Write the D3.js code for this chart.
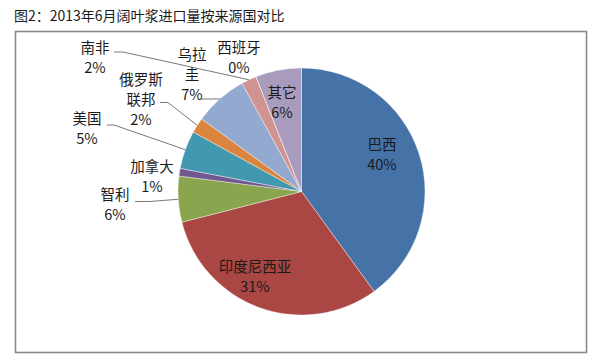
<!DOCTYPE html>
<html><head><meta charset="utf-8">
<script src="https://cdn.jsdelivr.net/npm/d3@7/dist/d3.min.js"></script>
<style>body{margin:0;background:#fff}svg{display:block}text{font-family:"Noto Sans CJK SC","Noto Sans",sans-serif;fill:#1a1a1a}</style>
</head><body>
<script>
const title = "图2：2013年6月阔叶浆进口量按来源国对比";
const countries = ["巴西","印度尼西亚","智利","加拿大","美国","俄罗斯联邦","乌拉圭","南非","西班牙","其它"];
const shares = [40,31,6,1,5,2,7,2,0,6];
const colors = ["#4572A7","#AA4643","#89A54E","#71588F","#4198AF","#DB843D","#93A9CF","#D19392","#B9CD96","#A99BBD"];
// label text lines (name split as in the original)
const nameLines = [["巴西"],["印度尼西亚"],["智利"],["加拿大"],["美国"],["俄罗斯","联邦"],["乌拉","圭"],["南非"],["西班牙"],["其它"]];

const W=597,H=361;
const svg=d3.select("body").append("svg").attr("width",W).attr("height",H);
svg.append("text").attr("x",14).attr("y",21).attr("font-size",14).text(title);
svg.append("rect").attr("x",15.5).attr("y",31.5).attr("width",571).attr("height",321)
  .attr("fill","#fff").attr("stroke","#8a8a8a").attr("stroke-width",1.6);

const cx=301.5, cy=191.5, R=123.5;
const data = countries.map((c,i)=>({name:c,value:shares[i],color:colors[i],lines:nameLines[i]}));
const pie=d3.pie().sort(null).value(d=>d.value);
const arcs=pie(data);
const arc=d3.arc().innerRadius(0).outerRadius(R);
const g=svg.append("g").attr("transform",`translate(${cx},${cy})`);
g.selectAll("path").data(arcs).join("path").attr("d",arc)
  .attr("fill",d=>d.data.color).attr("stroke","#fff").attr("stroke-width",0.4);

// label layout (centre of first text line) and leader elbow points
const layout={
 "巴西":{x:382,y:145},
 "印度尼西亚":{x:255,y:266.5},
 "其它":{x:282,y:92.5},
 "南非":{x:95,y:48.3,elbow:[[114,52],[123,52]]},
 "乌拉圭":{x:192,y:55,elbow:[[202,99],[212,99]]},
 "西班牙":{x:239,y:48.3},
 "俄罗斯联邦":{x:141,y:80,elbow:[[160,102.5],[168,102.5]]},
 "美国":{x:87,y:119,elbow:[[107,125],[114,125]]},
 "加拿大":{x:152,y:166.5},
 "智利":{x:115,y:194.5,elbow:[[135,201.5],[150,201.5]]}
};
const fmt=v=>Math.round(v)+"%";
const lineH=20;
arcs.forEach(a=>{
  const L=layout[a.data.name];
  const lines=a.data.lines.concat([fmt(a.data.value)]);
  const t=svg.append("text").attr("font-size",14.5).attr("text-anchor","middle");
  lines.forEach((s,i)=>t.append("tspan").attr("x",L.x).attr("y",L.y+i*lineH+5).text(s));
  if(L.elbow){
    const mid=(a.startAngle+a.endAngle)/2;
    const ex=cx+R*Math.sin(mid), ey=cy-R*Math.cos(mid);
    const pts=L.elbow.concat([[ex,ey]]);
    svg.append("path").attr("d",d3.line()(pts)).attr("fill","none")
      .attr("stroke","#555").attr("stroke-width",0.8);
  }
});
</script>
</body></html>
